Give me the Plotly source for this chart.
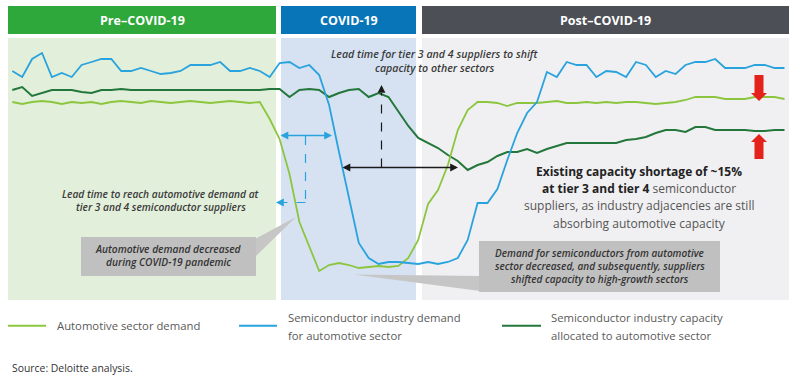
import plotly.graph_objects as go

W, H = 800, 379

# ---------------- data (relative level) ----------------
period = list(range(79))

automotive_demand = [
    99, 98, 99, 99.5, 99, 98, 99, 98.5, 99, 98,
    99, 99.5, 99, 98.5, 99.5, 99, 98.5, 99, 99.5, 99,
    98.5, 99, 99.5, 99, 98.5, 99,
    90.5, 80.5, 63, 39, 27, 14.5, 17.5, 18.5, 17.5, 16,
    16.5, 17, 16.5, 17, 21, 30, 48, 55, 67.5, 85, 95,
    99, 99, 98.5, 97, 98.5, 98.5, 98.5, 99, 99.5, 98.5,
    98.5, 99, 98.5, 99, 98.5, 99, 99, 98.5, 98, 98.5,
    99, 100, 101.5, 101.5, 101.5, 100.5, 100.5, 100.5, 101.5, 101.5,
    101.5, 100.5,
]

semiconductor_demand = [
    114.5, 111.5, 120.5, 123.5, 111.5, 113.5, 111.5, 117.5, 119, 120.5,
    120.5, 114.5, 114.5, 116, 114.5, 113, 113.5, 114.5, 117.5, 117.5,
    117.5, 119, 114.5, 114.5, 116, 114.5, 111.5, 118.5, 119, 116,
    117.5, 112.5, 97.5, 74, 51, 28.5, 21, 18, 19, 19,
    18.5, 18, 19, 18, 19, 21, 30, 48.5, 48.5, 55.5,
    70, 83.5, 93.5, 99, 114, 111.5, 119, 117.5, 117.5, 111.5,
    114.5, 114, 111.5, 119, 117.5, 111.5, 114.5, 113, 117.5, 119,
    119, 120.5, 116, 116, 116, 117.5, 117.5, 116, 116,
]

capacity_allocated = [
    105, 106.5, 102, 103.5, 105, 105, 105, 104, 103.5, 105,
    105, 105.5, 105, 105, 105, 105, 105, 105, 105, 105,
    105, 105, 105, 105, 105, 105, 105.5, 105.5, 101.5, 105,
    105.5, 105, 101.5, 103.5, 105, 105.5, 101.5, 103.5, 101.5, 94.5,
    87, 81, 78.5, 76, 72.5, 69.5, 65, 67.5, 69, 72,
    74, 74, 75.5, 73.5, 75.5, 77, 78.5, 78.5, 78.5, 78.5,
    78.5, 78.5, 80, 80.5, 81.5, 83.5, 85, 85, 84, 86.5,
    86.5, 85, 85, 85, 85, 84.5, 84.5, 85, 85,
]

phase_labels = ["Pre–COVID-19", "COVID-19", "Post–COVID-19"]
series_names = ["Automotive sector demand",
                "Semiconductor industry demand for automotive sector",
                "Semiconductor industry capacity allocated to automotive sector"]

# ---------------- styling ----------------
C_AUTO = "#8cc63f"
C_SEMI = "#29a3dd"
C_CAP = "#23773b"
FONT = "Open Sans"


def px(x):
    return x / W


def py(y):
    return 1 - y / H


fig = go.Figure()

for vals, col, name, wd in [(capacity_allocated, C_CAP, series_names[2], 2.0),
                            (automotive_demand, C_AUTO, series_names[0], 1.8),
                            (semiconductor_demand, C_SEMI, series_names[1], 1.8)]:
    fig.add_trace(go.Scatter(x=period, y=vals, mode="lines", name=name,
                             line=dict(color=col, width=wd), showlegend=False,
                             hoverinfo="skip"))

shapes = []
annotations = []

# phase panels and headers
panels = [((8, 276), "#e2efda", "#2ea83a"),
          ((281, 416), "#d6e2f2", "#0875b8"),
          ((422, 789), "#f0f0f2", "#4c4f56")]
for (x0, x1), body, head in panels:
    shapes.append(dict(type="rect", xref="paper", yref="paper", x0=px(x0), x1=px(x1),
                       y0=py(300), y1=py(38), fillcolor=body, line=dict(width=0), layer="below"))
    shapes.append(dict(type="rect", xref="paper", yref="paper", x0=px(x0), x1=px(x1),
                       y0=py(34), y1=py(6), fillcolor=head, line=dict(width=0), layer="below"))
for ((x0, x1), _, _), lab in zip(panels, phase_labels):
    annotations.append(dict(x=px((x0 + x1) / 2), y=py(20.5), xref="paper", yref="paper",
                            text=lab, showarrow=False, xanchor="center", yanchor="middle",
                            font=dict(family=FONT, size=12.5, color="white", weight=700)))


def text(x, y, s, size=10, color="#3a3a3a", italic=False, weight=400, anchor="center"):
    annotations.append(dict(x=px(x), y=py(y), xref="paper", yref="paper", text=s,
                            showarrow=False, xanchor=anchor, yanchor="middle",
                            font=dict(family=FONT, size=size, color=color,
                                      style="italic" if italic else "normal", weight=weight)))


def arrow(xh, yh, xt, yt, color, both=False, width=1.3, size=1.2):
    annotations.append(dict(x=px(xh), y=py(yh), xref="paper", yref="paper",
                            ax=xt - xh, ay=yt - yh, axref="pixel", ayref="pixel",
                            text="", showarrow=True, arrowhead=2, arrowsize=size,
                            arrowwidth=width, arrowcolor=color,
                            arrowside="end+start" if both else "end",
                            startarrowhead=2, startarrowsize=size,
                            standoff=0, startstandoff=0))


def dline(x0, y0, x1, y1, color):
    shapes.append(dict(type="line", xref="paper", yref="paper", x0=px(x0), y0=py(y0),
                       x1=px(x1), y1=py(y1), line=dict(color=color, width=1.2, dash="dash")))


def poly(points, color, layer="above"):
    path = "M " + " L ".join(f"{px(a):.5f},{py(b):.5f}" for a, b in points) + " Z"
    shapes.append(dict(type="path", xref="paper", yref="paper", path=path,
                       fillcolor=color, line=dict(width=0), layer=layer))


# blue lead-time arrows
arrow(332, 135.5, 279, 135.5, C_SEMI, both=True)
dline(305.5, 136, 305.5, 202.5, C_SEMI)
dline(305.5, 202.5, 283, 202.5, C_SEMI)
arrow(276, 202.5, 284, 202.5, C_SEMI)

# black lead-time arrows
arrow(458, 167.5, 341, 167.5, "#1a1a1a", both=True)
dline(381.5, 167.5, 381.5, 93, "#1a1a1a")
arrow(381.5, 85, 381.5, 93, "#1a1a1a")

# italic notes
text(434.5, 53.5, "Lead time for tier 3 and 4 suppliers to shift", size=10.6, italic=True, weight=600)
text(434.5, 68, "capacity to other sectors", size=10.6, italic=True, weight=600)
text(160.5, 193.5, "Lead time to reach automotive demand at", size=10.2, italic=True, weight=600)
text(160.5, 207, "tier 3 and 4 semiconductor suppliers", size=10.2, italic=True, weight=600)

# callout 1
poly([(255, 239), (255, 257), (296, 217)], "#c6c6c6")
shapes.append(dict(type="rect", xref="paper", yref="paper", x0=px(81), x1=px(256),
                   y0=py(276), y1=py(237), fillcolor="#c0c0c0", line=dict(width=0)))
text(168.5, 248.5, "Automotive demand decreased", size=10.2, italic=True, weight=600, color="#333333")
text(168.5, 262, "during COVID-19 pandemic", size=10.2, italic=True, weight=600, color="#333333")

# callout 2
poly([(480, 276), (480, 291), (354, 274.5)], "#c6c6c6")
shapes.append(dict(type="rect", xref="paper", yref="paper", x0=px(479), x1=px(720),
                   y0=py(292), y1=py(241), fillcolor="#c0c0c0", line=dict(width=0)))
text(599.5, 252.5, "Demand for semiconductors from automotive", size=10, italic=True, weight=600, color="#333333")
text(599.5, 265.5, "sector decreased, and subsequently, suppliers", size=10, italic=True, weight=600, color="#333333")
text(599.5, 278.5, "shifted capacity to high-growth sectors", size=10, italic=True, weight=600, color="#333333")

# shortage statement
SZ = 12
text(639, 171, "<b>Existing capacity shortage of ~15%</b>", size=SZ, color="#222222")
text(639, 188, "<b>at tier 3 and tier 4</b> <span style='color:#555555'>semiconductor</span>",
     size=SZ, color="#222222")
text(639, 205.5, "suppliers, as industry adjacencies are still", size=SZ, color="#555555")
text(639, 223, "absorbing automotive capacity", size=SZ, color="#555555")

# red arrows
RED = "#e3231b"
poly([(754.5, 75), (763.5, 75), (763.5, 93), (767, 93), (759, 101), (751, 93), (754.5, 93)], RED)
poly([(759, 134), (767, 142), (763.5, 142), (763.5, 159), (754.5, 159), (754.5, 142), (751, 142)], RED)

# legend
for (x0, x1), col in [((8, 46), C_AUTO), ((239, 277), C_SEMI), ((502, 541), C_CAP)]:
    shapes.append(dict(type="line", xref="paper", yref="paper", x0=px(x0), x1=px(x1),
                       y0=py(325.7), y1=py(325.7), line=dict(color=col, width=2)))
LEG = "#5a5a5a"
LS = 11.3
text(55, 325.5, "Automotive sector demand", size=LS, color=LEG, anchor="left")
text(286, 317, "Semiconductor industry demand", size=LS, color=LEG, anchor="left")
text(286, 335, "for automotive sector", size=LS, color=LEG, anchor="left")
text(549, 317, "Semiconductor industry capacity", size=LS, color=LEG, anchor="left")
text(549, 335, "allocated to automotive sector", size=LS, color=LEG, anchor="left")

text(10, 368, "Source: Deloitte analysis.", size=10.4, color="#333333", anchor="left")

fig.update_layout(
    width=W, height=H, autosize=False,
    margin=dict(l=0, r=0, t=0, b=0, pad=0),
    paper_bgcolor="white", plot_bgcolor="rgba(0,0,0,0)",
    xaxis=dict(range=[-12.3 / 9.9, (W - 12.3) / 9.9], visible=False, fixedrange=True),
    yaxis=dict(range=[150 - H / 2, 150], visible=False, fixedrange=True),
    shapes=shapes, annotations=annotations, showlegend=False,
)

fig.write_html("out.html", config={"displayModeBar": False},
               post_script="document.body.style.margin='0px';")
